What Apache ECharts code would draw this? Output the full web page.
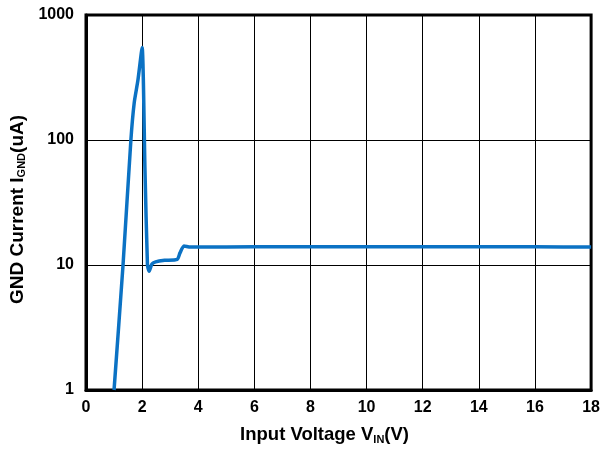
<!DOCTYPE html>
<html><head><meta charset="utf-8">
<script src="https://cdn.jsdelivr.net/npm/echarts@6/dist/echarts.min.js"></script>
<style>html,body{margin:0;padding:0;background:#fff}#c{width:603px;height:450px}</style>
</head><body><div id="c"></div>
<script>
var vin = [1.0, 1.32, 1.6, 1.72, 1.85, 2.0, 2.1, 2.19, 2.25, 2.35, 2.48, 2.8, 3.25, 3.35, 3.49, 3.72, 5, 7, 9, 11, 13, 15, 17, 18];
var ignd = [1.0, 10, 100, 200, 300, 550, 60, 10, 8.9, 10.2, 10.6, 10.9, 11.1, 12.5, 14.2, 13.9, 13.95, 14.0, 14.0, 14.0, 14.0, 14.0, 13.95, 13.95];
var xTicks = [0, 2, 4, 6, 8, 10, 12, 14, 16, 18];
var yTicks = [1, 10, 100, 1000];
var data = vin.map(function(v, i){ return [v, ignd[i]]; });
var font = 'Liberation Sans, Arial, sans-serif';
var chart = echarts.init(document.getElementById('c'));
chart.setOption({
  animation: false,
  grid: {left: 85, right: 10, top: 15, bottom: 59, show: true, borderColor: '#000', borderWidth: 3},
  xAxis: {
    type: 'value', min: 0, max: 18, interval: 2,
    name: '{n|Input Voltage V}{s|IN}{n|(V)}', nameLocation: 'middle', nameGap: 35,
    nameTextStyle: {padding: [0, 28, 0, 0], rich: {n: {fontSize: 18.5, fontWeight: 'bold', fontFamily: font, color: '#000'}, s: {fontSize: 11, fontWeight: 'bold', fontFamily: font, color: '#000', verticalAlign: 'bottom', padding: [9, 0, 0, 0]}}},
    axisLine: {show: true, lineStyle: {color: '#000', width: 3}},
    axisTick: {show: false},
    axisLabel: {fontSize: 16, fontWeight: 'bold', fontFamily: font, color: '#000', margin: 10},
    splitLine: {show: true, lineStyle: {color: '#000', width: 1}}
  },
  yAxis: {
    type: 'log', min: 1, max: 1000, logBase: 10,
    name: '{n|GND Current I}{s|GND}{n|(uA)}', nameLocation: 'middle', nameGap: 58, nameRotate: 90,
    nameTextStyle: {padding: [0, 14, 0, 0], rich: {n: {fontSize: 19, fontWeight: 'bold', fontFamily: font, color: '#000'}, s: {fontSize: 11, fontWeight: 'bold', fontFamily: font, color: '#000', verticalAlign: 'bottom', padding: [9, 0, 0, 0]}}},
    axisLine: {show: true, lineStyle: {color: '#000', width: 3}},
    axisTick: {show: false},
    axisLabel: {fontSize: 16, fontWeight: 'bold', fontFamily: font, color: '#000', margin: 12,
      formatter: function(v){ return yTicks.indexOf(Math.round(v)) >= 0 ? String(Math.round(v)) : ''; }},
    splitLine: {show: true, lineStyle: {color: '#000', width: 1}},
    minorSplitLine: {show: false}
  },
  series: [{
    type: 'line', data: data, showSymbol: false, smooth: 0.2,
    lineStyle: {color: '#0B72C4', width: 3.5}, clip: true
  }]
});
</script></body></html>
